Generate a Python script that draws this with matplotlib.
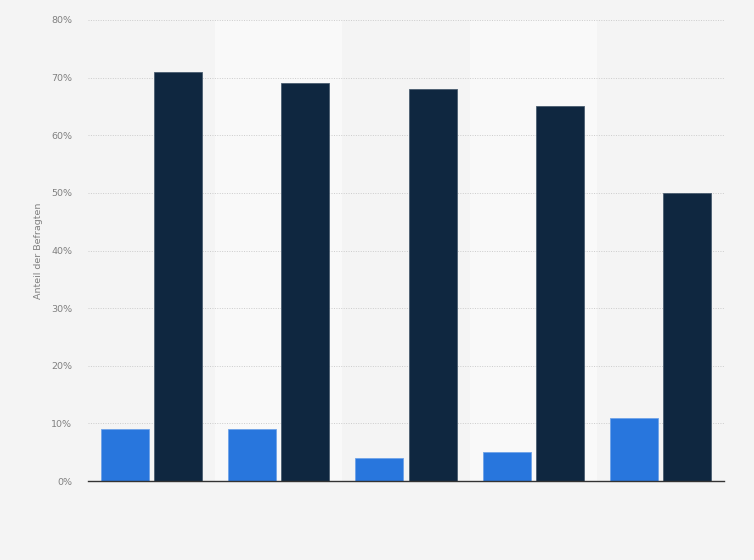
from matplotlib import pyplot as plt
import numpy as np

groups = ['1', '2', '3', '4', '5']
series_blue = [9, 9, 4, 5, 11]
series_dark = [71, 69, 68, 65, 50]
yticks = [0, 10, 20, 30, 40, 50, 60, 70, 80]
ytick_labels = ['0%', '10%', '20%', '30%', '40%', '50%', '60%', '70%', '80%']

fig = plt.figure(figsize=(7.54, 5.6), dpi=100)
fig.patch.set_facecolor('#f4f4f4')
ax = fig.add_axes([0.1167, 0.141, 0.8435, 0.8233])
ax.set_facecolor('#f4f4f4')

x = np.arange(len(groups))
for i in x:
    if i % 2 == 1:
        ax.axvspan(i - 0.5, i + 0.5, color='#f9f9f9', zorder=0, lw=0)

w = 0.377
off = 0.209
ax.bar(x - off, series_blue, width=w, color='#2876dd', edgecolor='#6fa3e8', linewidth=0.6, zorder=3)
ax.bar(x + off, series_dark, width=w, color='#0f2740', edgecolor='#4a5d70', linewidth=0.6, zorder=3)

ax.set_xlim(-0.5, len(groups) - 0.5)
ax.set_ylim(0, 80)
ax.set_yticks(yticks)
ax.set_yticklabels(ytick_labels, fontsize=6.8, color='#808080')
ax.set_xticks([])
ax.tick_params(axis='y', length=0, pad=11.5)
ax.yaxis.grid(True, linestyle=(0, (1, 1.5)), color='#cccccc', linewidth=0.7, zorder=1)
for s in ['top', 'right', 'left']:
    ax.spines[s].set_visible(False)
ax.spines['bottom'].set_color('#333333')
ax.spines['bottom'].set_linewidth(1.0)
ax.spines['bottom'].set_zorder(4)

ax.set_ylabel('Anteil der Befragten', fontsize=6.8, color='#808080', labelpad=6)

plt.savefig('out.png', dpi=100, facecolor=fig.get_facecolor())
